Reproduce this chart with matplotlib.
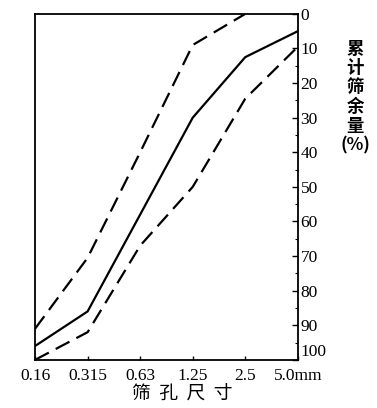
import matplotlib
matplotlib.use("Agg")
import matplotlib.pyplot as plt

# sieve sizes (mm) and cumulative retained (%)
sizes = ["0.16", "0.315", "0.63", "1.25", "2.5", "5.0mm"]
upper_x = [0, 1, 2, 3, 4]
upper = [91, 70.5, 40, 9, 0]
mid = [96, 86, 58, 30, 12.5, 5]
lower = [100, 92, 67, 50, 24.5, 9.5]

CJK = ["Noto Sans CJK SC", "DejaVu Sans"]
NUM = ["Liberation Serif", "DejaVu Serif"]

fig = plt.figure(figsize=(3.77, 4.08), dpi=100)
ax = fig.add_axes([0.093, 0.118, 0.697, 0.848])

dash = (0, (7, 3.5))
ax.plot(upper_x, upper, color="black", lw=1.6, linestyle=dash)
ax.plot(range(len(mid)), mid, color="black", lw=1.6)
ax.plot(range(len(lower)), lower, color="black", lw=1.6, linestyle=dash)

ax.set_xlim(0, 5)
ax.set_ylim(100, 0)
ax.set_xticks(range(len(sizes)))
ax.set_xticklabels(sizes, fontsize=12.5, family=NUM)
ax.set_yticks(range(0, 101, 10))
ax.set_yticks(range(0, 101, 5), minor=True)
ax.yaxis.tick_right()
ax.set_yticklabels([str(v) for v in range(0, 101, 10)], fontsize=12.5, family=NUM)
ax.tick_params(axis="y", which="major", direction="in", length=4, pad=2, width=1)
ax.tick_params(axis="y", which="minor", direction="in", length=2, width=0.8)
ax.tick_params(axis="x", direction="in", length=3, pad=6, width=1)
for s in ax.spines.values():
    s.set_linewidth(1.3)
# keep the bottom y label clear of "5.0mm"
ax.get_yticklabels()[-1].set_va("bottom")

fig.text(0.483, 0.036, "筛  孔  尺  寸", ha="center", va="center", fontsize=13.5, family=CJK)
fig.text(0.942, 0.762, "累\n计\n筛\n余\n量\n(%)", ha="center", va="center",
         fontsize=12.5, family=CJK, fontweight="bold", linespacing=1.1)

fig.savefig("out.png", dpi=100, facecolor="white")
